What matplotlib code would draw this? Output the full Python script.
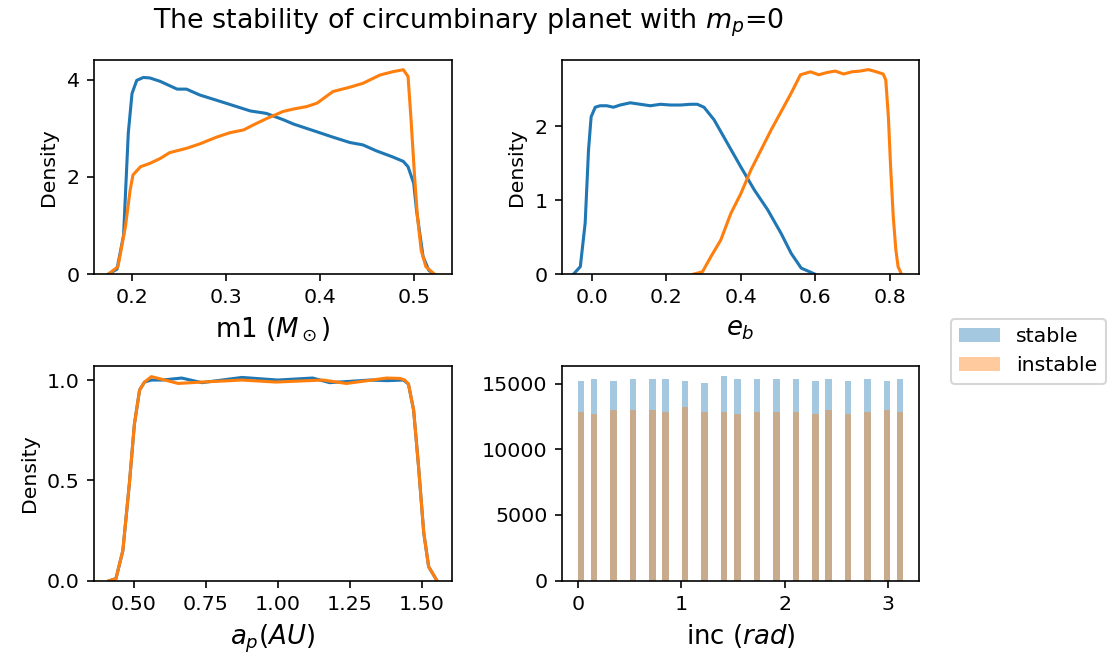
import numpy as np
import matplotlib
matplotlib.use("Agg")
import matplotlib.pyplot as plt

# ---- data ----
# m1 KDE curves
m1_stable_x = [0.175, 0.184, 0.191, 0.196, 0.200, 0.205, 0.212, 0.219, 0.230, 0.248, 0.258, 0.272,
               0.300, 0.326, 0.343, 0.361, 0.372, 0.397, 0.414, 0.432, 0.446, 0.460, 0.478, 0.489,
               0.494, 0.500, 0.503, 0.507, 0.510, 0.516, 0.521]
m1_stable_y = [0.00, 0.10, 0.80, 2.90, 3.72, 3.99, 4.05, 4.04, 3.97, 3.81, 3.81, 3.69,
               3.52, 3.36, 3.31, 3.18, 3.09, 2.93, 2.82, 2.71, 2.66, 2.54, 2.41, 2.32,
               2.21, 1.87, 1.32, 0.77, 0.36, 0.08, 0.00]
m1_instable_x = [0.175, 0.185, 0.193, 0.198, 0.201, 0.209, 0.219, 0.230, 0.240, 0.258, 0.272, 0.290,
                 0.304, 0.319, 0.329, 0.343, 0.361, 0.372, 0.386, 0.397, 0.414, 0.432, 0.446, 0.464,
                 0.478, 0.489, 0.494, 0.497, 0.501, 0.504, 0.508, 0.513, 0.522]
m1_instable_y = [0.00, 0.15, 0.98, 1.73, 2.04, 2.21, 2.28, 2.38, 2.50, 2.59, 2.68, 2.82,
                 2.91, 2.97, 3.07, 3.20, 3.35, 3.40, 3.45, 3.52, 3.76, 3.85, 3.93, 4.10,
                 4.17, 4.21, 4.07, 3.24, 2.00, 1.18, 0.49, 0.15, 0.00]

# e_b KDE curves
eb_stable_x = [-0.049, -0.031, -0.018, -0.009, -0.002, 0.009, 0.022, 0.040, 0.058, 0.076, 0.103, 0.130,
               0.157, 0.184, 0.211, 0.238, 0.265, 0.283, 0.301, 0.328, 0.364, 0.400, 0.436, 0.472,
               0.508, 0.535, 0.562, 0.598]
eb_stable_y = [0.00, 0.10, 0.69, 1.68, 2.13, 2.26, 2.28, 2.28, 2.26, 2.29, 2.32, 2.30,
               2.28, 2.30, 2.29, 2.29, 2.30, 2.30, 2.26, 2.09, 1.77, 1.45, 1.14, 0.87,
               0.55, 0.28, 0.08, 0.00]
eb_instable_x = [0.274, 0.297, 0.319, 0.346, 0.373, 0.400, 0.427, 0.454, 0.481, 0.508, 0.535, 0.560,
                 0.587, 0.609, 0.631, 0.653, 0.676, 0.698, 0.720, 0.742, 0.764, 0.782, 0.789, 0.796,
                 0.802, 0.809, 0.816, 0.822, 0.831]
eb_instable_y = [0.00, 0.03, 0.23, 0.46, 0.82, 1.09, 1.41, 1.68, 1.95, 2.20, 2.45, 2.70,
                 2.74, 2.70, 2.73, 2.75, 2.71, 2.74, 2.75, 2.77, 2.74, 2.71, 2.63, 2.13,
                 1.45, 0.78, 0.33, 0.10, 0.00]

# a_p KDE curves
ap_stable_x = [0.416, 0.439, 0.463, 0.486, 0.503, 0.521, 0.538, 0.562, 0.600, 0.667, 0.737, 0.876,
               1.000, 1.121, 1.180, 1.320, 1.378, 1.436, 1.453, 1.471, 1.488, 1.506, 1.523, 1.552]
ap_stable_y = [0.00, 0.01, 0.15, 0.49, 0.78, 0.95, 0.99, 1.00, 1.00, 1.010, 0.987, 1.013,
               1.000, 1.010, 0.987, 1.000, 0.997, 1.000, 0.98, 0.85, 0.57, 0.24, 0.07, 0.00]
ap_instable_x = [0.416, 0.439, 0.463, 0.486, 0.503, 0.521, 0.538, 0.562, 0.655, 0.737, 0.876, 0.993,
                 1.156, 1.238, 1.378, 1.424, 1.440, 1.453, 1.471, 1.488, 1.506, 1.523, 1.552]
ap_instable_y = [0.00, 0.01, 0.15, 0.49, 0.78, 0.95, 0.99, 1.017, 0.983, 0.99, 1.000, 0.99,
                 1.000, 0.983, 1.010, 1.008, 1.00, 0.98, 0.85, 0.57, 0.24, 0.07, 0.00]

# inclination histogram (degrees -> radians), counts per value
inc_deg = [0, 10, 20, 30, 40, 50, 60, 70, 80, 90, 100, 110, 120, 130, 140, 150, 160, 170, 180]
inc_stable_counts = [15200, 15380, 15200, 15380, 15380, 15380, 15200, 15050, 15560, 15380,
                     15380, 15380, 15380, 15200, 15380, 15200, 15380, 15200, 15380]
inc_instable_counts = [12860, 12660, 13010, 13010, 13010, 12860, 13190, 12860, 12860, 12660,
                       12860, 12860, 12860, 12660, 13010, 12660, 12860, 13010, 12860]

series_labels = ["stable", "instable"]
title_text = "The stability of circumbinary planet with $m_p$=0"

# ---- figure ----
DPI = 72 * 2.05
fig = plt.figure(figsize=(1120 / DPI, 661 / DPI), dpi=DPI)
W, H = 1120.0, 661.0

def axes_px(left, right, top, bottom):
    return fig.add_axes([left / W, 1 - bottom / H, (right - left) / W, (bottom - top) / H])

ax1 = axes_px(94, 451.7, 60, 274)
ax2 = axes_px(561.7, 919.3, 60, 274)
ax3 = axes_px(94, 451.7, 366, 580.7)
ax4 = axes_px(561.7, 919.3, 366, 580.7)

c0, c1 = "#1f77b4", "#ff7f0e"
LBL = 12.7

ax1.plot(m1_stable_x, m1_stable_y, color=c0, lw=1.5)
ax1.plot(m1_instable_x, m1_instable_y, color=c1, lw=1.5)
ax1.set_xlim(0.1595, 0.5405)
ax1.set_ylim(0, 4.41)
ax1.set_xticks([0.2, 0.3, 0.4, 0.5])
ax1.set_yticks([0, 2, 4])
ax1.set_ylabel("Density")
ax1.set_xlabel(r"m1 ($M_\odot$)", fontsize=LBL)

ax2.plot(eb_stable_x, eb_stable_y, color=c0, lw=1.5)
ax2.plot(eb_instable_x, eb_instable_y, color=c1, lw=1.5)
ax2.set_xlim(-0.081, 0.879)
ax2.set_ylim(0, 2.9)
ax2.set_xticks([0.0, 0.2, 0.4, 0.6, 0.8])
ax2.set_yticks([0, 1, 2])
ax2.set_ylabel("Density")
ax2.set_xlabel(r"$e_b$", fontsize=LBL)

ax3.plot(ap_stable_x, ap_stable_y, color=c0, lw=1.5)
ax3.plot(ap_instable_x, ap_instable_y, color=c1, lw=1.5)
ax3.set_xlim(0.363, 1.603)
ax3.set_ylim(0, 1.07)
ax3.set_xticks([0.5, 0.75, 1.0, 1.25, 1.5])
ax3.set_yticks([0.0, 0.5, 1.0])
ax3.set_ylabel("Density")
ax3.set_xlabel(r"$a_p (AU)$", fontsize=LBL)

inc_rad = np.deg2rad(inc_deg)
rng = (inc_rad.min(), inc_rad.max())
ax4.hist(inc_rad, bins=50, range=rng, weights=inc_stable_counts, alpha=0.4,
         color=c0, label=series_labels[0])
ax4.hist(inc_rad, bins=50, range=rng, weights=inc_instable_counts, alpha=0.4,
         color=c1, label=series_labels[1])
ax4.set_xticks([0, 1, 2, 3])
ax4.set_yticks([0, 5000, 10000, 15000])
ax4.set_xlabel(r"inc ($rad$)", fontsize=LBL)

fig.text(469 / W, 1 - 7 / H, title_text, ha="center", va="top", fontsize=13.1)

h, l = ax4.get_legend_handles_labels()
fig.legend(h, l, loc="upper left", bbox_to_anchor=(950.7 / W, 1 - 319 / H),
           borderaxespad=0)

fig.savefig("out.png", dpi=DPI)
